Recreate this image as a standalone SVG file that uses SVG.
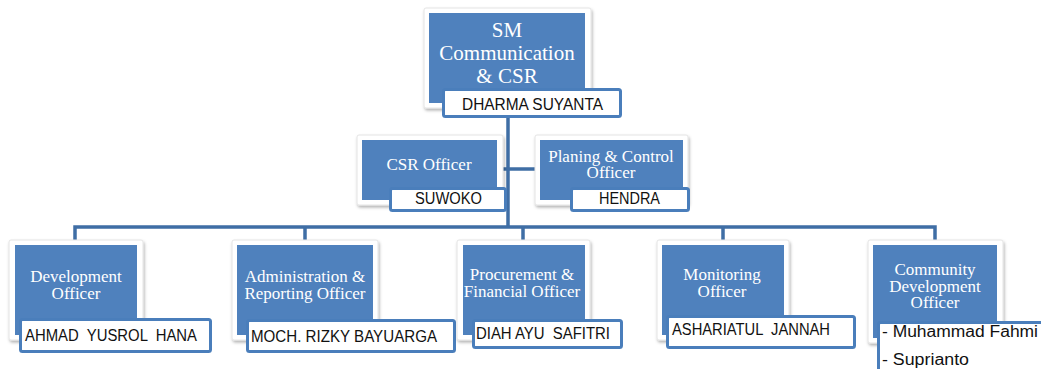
<svg xmlns="http://www.w3.org/2000/svg" width="1041" height="369" viewBox="0 0 1041 369">
<defs>
<filter id="sh" x="-10%" y="-10%" width="125%" height="130%">
<feDropShadow dx="1" dy="2" stdDeviation="1.5" flood-color="#000" flood-opacity="0.3"/>
</filter>
</defs>
<style>
.frame{fill:#fff;stroke:#e4e4e4;stroke-width:1;filter:url(#sh)}
.box{fill:#4f81bd}
.lbl{fill:#fff;stroke:#4a7ebb;stroke-width:3}
.t{font-family:"Liberation Serif","Times New Roman",serif;font-size:17px;fill:#fff;text-anchor:middle}
.big{font-size:21px}
.n{font-family:"Liberation Sans",Arial,sans-serif;font-size:16px;fill:#111;white-space:pre}
.c{fill:none;stroke:#3f6ea5;stroke-width:3.5}
</style>
<rect width="1041" height="369" fill="#fff"/>
<g id="connectors">
<path class="c" d="M508,118 V227"/>
<path class="c" d="M497,169 H540"/>
<path class="c" d="M75,245 V227 H935 V245"/>
<path class="c" d="M305,227 V245 M523,227 V245 M723,227 V245"/>
</g>
<g id="sm">
<rect class="frame" x="424" y="8" width="167" height="100" rx="2"/>
<rect class="box" x="429" y="13" width="156" height="90"/>
<text class="t big" x="507" y="37">SM</text>
<text class="t big" x="507" y="60">Communication</text>
<text class="t big" x="507" y="83">&amp; CSR</text>
<rect class="lbl" x="443.5" y="89.5" width="177" height="27" rx="2"/>
<text class="n" x="462" y="110" textLength="141" lengthAdjust="spacingAndGlyphs">DHARMA SUYANTA</text>
</g>
<g id="csr">
<rect class="frame" x="357" y="135" width="146" height="70" rx="2"/>
<rect class="box" x="362" y="140" width="135" height="60"/>
<text class="t" x="429" y="170">CSR Officer</text>
<rect class="lbl" x="390.5" y="188.5" width="115" height="22" rx="2"/>
<text class="n" x="415" y="204" textLength="67" lengthAdjust="spacingAndGlyphs">SUWOKO</text>
</g>
<g id="planing">
<rect class="frame" x="535" y="135" width="153" height="70" rx="2"/>
<rect class="box" x="540" y="140" width="143" height="60"/>
<text class="t" x="611" y="162">Planing &amp; Control</text>
<text class="t" x="611" y="178">Officer</text>
<rect class="lbl" x="571.5" y="188.5" width="117" height="22" rx="2"/>
<text class="n" x="599" y="204" textLength="61" lengthAdjust="spacingAndGlyphs">HENDRA</text>
</g>
<g id="development">
<rect class="frame" x="9" y="240" width="134" height="100" rx="2"/>
<rect class="box" x="15" y="245" width="122" height="90"/>
<text class="t" x="76" y="282">Development</text>
<text class="t" x="76" y="299">Officer</text>
<rect class="lbl" x="20.5" y="319.5" width="190" height="32" rx="2"/>
<text class="n" x="25" y="341" textLength="172" lengthAdjust="spacingAndGlyphs" xml:space="preserve">AHMAD  YUSROL  HANA</text>
</g>
<g id="administration">
<rect class="frame" x="232" y="240" width="146" height="100" rx="2"/>
<rect class="box" x="237" y="245" width="136" height="90"/>
<text class="t" x="305" y="282">Administration &amp;</text>
<text class="t" x="305" y="299">Reporting Officer</text>
<rect class="lbl" x="247.5" y="320.5" width="207" height="31" rx="2"/>
<text class="n" x="251" y="342" textLength="186" lengthAdjust="spacingAndGlyphs">MOCH. RIZKY BAYUARGA</text>
</g>
<g id="procurement">
<rect class="frame" x="457" y="240" width="133" height="100" rx="2"/>
<rect class="box" x="463" y="245" width="122" height="90"/>
<text class="t" x="522" y="280">Procurement &amp;</text>
<text class="t" x="522" y="297">Financial Officer</text>
<rect class="lbl" x="473.5" y="320.5" width="148" height="27" rx="2"/>
<text class="n" x="476" y="339" textLength="134" lengthAdjust="spacingAndGlyphs" xml:space="preserve">DIAH AYU  SAFITRI</text>
</g>
<g id="monitoring">
<rect class="frame" x="657" y="240" width="132" height="100" rx="2"/>
<rect class="box" x="662" y="245" width="122" height="90"/>
<text class="t" x="722" y="280">Monitoring</text>
<text class="t" x="722" y="297">Officer</text>
<rect class="lbl" x="667.5" y="316.5" width="187" height="31" rx="2"/>
<text class="n" x="672" y="335" textLength="158" lengthAdjust="spacingAndGlyphs" xml:space="preserve">ASHARIATUL  JANNAH</text>
</g>
<g id="community">
<rect class="frame" x="868" y="240" width="135" height="103" rx="2"/>
<rect class="box" x="873" y="245" width="124" height="93"/>
<text class="t" x="935" y="275">Community</text>
<text class="t" x="935" y="292">Development</text>
<text class="t" x="935" y="308">Officer</text>
<rect class="lbl" x="878.5" y="322.5" width="200" height="80" rx="2"/>
<text class="n" x="882" y="337" textLength="156" lengthAdjust="spacingAndGlyphs">- Muhammad Fahmi</text>
<text class="n" x="882" y="365" textLength="87" lengthAdjust="spacingAndGlyphs">- Suprianto</text>
</g>
</svg>
